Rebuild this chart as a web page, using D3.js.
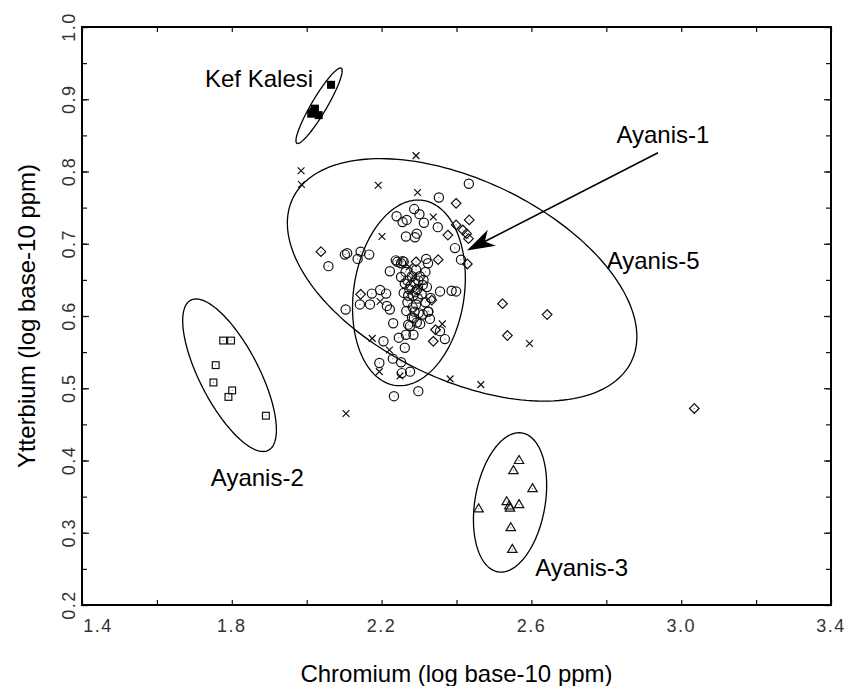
<!DOCTYPE html>
<html>
<head>
<meta charset="utf-8">
<script src="https://cdn.jsdelivr.net/npm/d3@7"></script>
<style>
body { margin: 0; background: #fff; }
text { font-family: "Liberation Sans", Arial, Helvetica, sans-serif; }
</style>
</head>
<body>
<svg id="chart"></svg>
<script>
var width = 849, height = 686;

// axis ticks
var xTicks = d3.range(14, 35, 2).map(function(d) { return d / 10; });
var xLabels = [1.4, 1.8, 2.2, 2.6, 3.0, 3.4];
var yTicks = d3.range(20, 101, 5).map(function(d) { return d / 100; });
var yLabels = [0.2, 0.3, 0.4, 0.5, 0.6, 0.7, 0.8, 0.9, 1.0];

// groups [Cr, Yb]
var kefKalesi = [[2.065,0.920],[2.022,0.887],[2.012,0.880],[2.032,0.878],[2.018,0.883]];

var ayanis2 = [[1.777,0.566],[1.798,0.566],[1.757,0.532],[1.751,0.508],[1.801,0.497],
  [1.791,0.488],[1.891,0.462]];

var ayanis3 = [[2.567,0.400],[2.552,0.386],[2.603,0.361],[2.534,0.343],[2.541,0.337],
  [2.543,0.334],[2.567,0.339],[2.459,0.333],[2.545,0.307],[2.549,0.277]];

var ayanis5 = [[2.038,0.689],[2.144,0.630],[2.292,0.675],[2.351,0.678],[2.399,0.756],
  [2.434,0.733],[2.377,0.712],[2.399,0.726],[2.417,0.719],[2.427,0.714],[2.432,0.707],
  [2.429,0.672],[2.334,0.622],[2.344,0.581],[2.338,0.565],[2.523,0.617],[2.536,0.573],
  [2.642,0.602],[3.035,0.472]];

var unassigned = [[1.985,0.801],[1.986,0.782],[2.292,0.822],[2.191,0.781],[2.296,0.771],
  [2.338,0.737],[2.201,0.710],[2.274,0.668],[2.196,0.620],[2.175,0.569],[2.221,0.553],
  [2.194,0.523],[2.249,0.517],[2.362,0.589],[2.383,0.513],[2.465,0.505],[2.595,0.562],
  [2.105,0.465],[2.285,0.655],[2.300,0.640]];

var ayanis1 = [[2.433,0.783],[2.353,0.764],[2.240,0.738],[2.287,0.748],[2.301,0.741],
  [2.267,0.733],[2.256,0.730],[2.313,0.729],[2.350,0.723],[2.265,0.710],[2.294,0.714],
  [2.289,0.709],[2.396,0.694],[2.102,0.685],[2.108,0.687],[2.144,0.689],[2.136,0.679],
  [2.167,0.685],[2.058,0.669],[2.412,0.678],[2.319,0.679],[2.238,0.677],[2.256,0.676],
  [2.222,0.662],[2.356,0.634],[2.387,0.635],[2.399,0.634],[2.174,0.631],[2.196,0.636],
  [2.212,0.631],[2.142,0.616],[2.169,0.616],[2.214,0.614],[2.222,0.609],[2.104,0.609],
  [2.325,0.606],[2.329,0.596],[2.231,0.590],[2.271,0.588],[2.294,0.591],[2.356,0.579],
  [2.369,0.568],[2.285,0.574],[2.265,0.574],[2.246,0.570],[2.205,0.565],[2.262,0.556],
  [2.230,0.541],[2.252,0.536],[2.194,0.535],[2.276,0.523],[2.254,0.521],[2.298,0.496],
  [2.233,0.489],
  [2.242,0.675],[2.259,0.675],[2.252,0.654],[2.264,0.661],[2.269,0.649],[2.281,0.655],
  [2.288,0.646],[2.298,0.649],[2.310,0.643],[2.321,0.640],[2.295,0.637],[2.274,0.637],
  [2.259,0.632],[2.284,0.628],[2.307,0.630],[2.331,0.625],[2.269,0.619],[2.292,0.616],
  [2.317,0.619],[2.266,0.607],[2.288,0.606],[2.310,0.602],[2.281,0.598],[2.303,0.589],
  [2.276,0.586],[2.324,0.606],[2.317,0.661],[2.324,0.673],[2.292,0.664],[2.252,0.673],
  [2.278,0.642],[2.290,0.633],[2.302,0.655],[2.283,0.612],[2.297,0.624],[2.271,0.628],
  [2.312,0.650],[2.262,0.645],[2.286,0.597],[2.299,0.604]];

// 95% ellipses: centre, end of major axis, end of minor axis
var ellipses = [
  {name: "Kef Kalesi", center: [2.033,0.891], major: [2.092,0.943], minor: [2.051,0.886]},
  {name: "Ayanis-2",   center: [1.794,0.518], major: [1.897,0.414], minor: [1.723,0.500]},
  {name: "Ayanis-3",   center: [2.543,0.342], major: [2.576,0.438], minor: [2.635,0.333]},
  {name: "Ayanis-5",   center: [2.415,0.650], major: [2.867,0.537], minor: [2.299,0.526]},
  {name: "Ayanis-1",   center: [2.273,0.632], major: [2.310,0.760], minor: [2.419,0.621]}
];

var labels = [
  {text: "Kef Kalesi", pos: [2.017,0.917], anchor: "end"},
  {text: "Ayanis-1",   pos: [2.827,0.840], anchor: "start"},
  {text: "Ayanis-5",   pos: [2.801,0.665], anchor: "start"},
  {text: "Ayanis-2",   pos: [1.744,0.365], anchor: "start"},
  {text: "Ayanis-3",   pos: [2.610,0.240], anchor: "start"}
];

var arrowFrom = [2.938,0.826], arrowTo = [2.428,0.6905];

var svg = d3.select("#chart").attr("width", width).attr("height", height);

var x = d3.scaleLinear().domain([1.4, 3.4]).range([82, 831]);
var y = d3.scaleLinear().domain([0.2, 1.0]).range([605, 27]);

// ticks on all four sides, pointing inward
svg.append("g").attr("transform", "translate(0," + y(0.2) + ")")
  .call(d3.axisBottom(x).tickValues(xTicks).tickSize(-5).tickFormat(""));
svg.append("g").attr("transform", "translate(0," + y(1.0) + ")")
  .call(d3.axisTop(x).tickValues(xTicks).tickSize(-5).tickFormat(""));
svg.append("g").attr("transform", "translate(" + x(1.4) + ",0)")
  .call(d3.axisLeft(y).tickValues(yTicks).tickSize(-5).tickFormat(""));
svg.append("g").attr("transform", "translate(" + x(3.4) + ",0)")
  .call(d3.axisRight(y).tickValues(yTicks).tickSize(-5).tickFormat(""));
// longer ticks at labelled values
svg.append("g").attr("transform", "translate(" + x(1.4) + ",0)")
  .call(d3.axisLeft(y).tickValues(yLabels).tickSize(-7).tickFormat(""));
svg.append("g").attr("transform", "translate(" + x(3.4) + ",0)")
  .call(d3.axisRight(y).tickValues(yLabels).tickSize(-7).tickFormat(""));
svg.selectAll(".domain").remove();
svg.selectAll(".tick line").attr("stroke", "#111").attr("stroke-width", 1.2);

svg.append("rect")
  .attr("x", x(1.4)).attr("y", y(1.0))
  .attr("width", x(3.4) - x(1.4)).attr("height", y(0.2) - y(1.0))
  .attr("fill", "none").attr("stroke", "#000").attr("stroke-width", 2);

// tick labels
svg.append("g").selectAll("text")
  .data(xLabels).enter().append("text")
  .attr("x", function(d, i) { return i == 0 ? x(d) + 16 : x(d); })
  .attr("y", 632)
  .attr("text-anchor", "middle")
  .style("font-size", "18px").style("letter-spacing", "1.5px").attr("fill", "#333")
  .text(function(d) { return d.toFixed(1); });

svg.append("g").selectAll("text")
  .data(yLabels).enter().append("text")
  .attr("transform", function(d) { return "translate(75," + y(d) + ") rotate(-90)"; })
  .attr("text-anchor", "middle")
  .style("font-size", "18px").style("letter-spacing", "1.5px").attr("fill", "#333")
  .text(function(d) { return d.toFixed(1); });

// axis titles
svg.append("text")
  .attr("x", (x(1.4) + x(3.4)) / 2).attr("y", 682)
  .attr("text-anchor", "middle").style("font-size", "24px")
  .text("Chromium (log base-10 ppm)");
svg.append("text")
  .attr("transform", "translate(35," + (y(0.2) + y(1.0)) / 2 + ") rotate(-90)")
  .attr("text-anchor", "middle").style("font-size", "24px")
  .text("Ytterbium (log base-10 ppm)");

// ellipses
var line = d3.line().curve(d3.curveLinearClosed);
function ellipsePath(e) {
  var c = [x(e.center[0]), y(e.center[1])];
  var a = [x(e.major[0]) - c[0], y(e.major[1]) - c[1]];
  var b = [x(e.minor[0]) - c[0], y(e.minor[1]) - c[1]];
  var pts = d3.range(0, 360, 2).map(function(deg) {
    var t = deg * Math.PI / 180;
    return [c[0] + a[0] * Math.cos(t) + b[0] * Math.sin(t),
            c[1] + a[1] * Math.cos(t) + b[1] * Math.sin(t)];
  });
  return line(pts);
}
svg.append("g").selectAll("path")
  .data(ellipses).enter().append("path")
  .attr("d", ellipsePath)
  .attr("fill", "none").attr("stroke", "#000").attr("stroke-width", 1.3);

// markers
var marks = svg.append("g").attr("fill", "none").attr("stroke", "#111").attr("stroke-width", 1.2);

function centreDots(data) {
  marks.append("g").selectAll("rect")
    .data(data).enter().append("rect")
    .attr("x", function(d) { return x(d[0]) - 0.5; })
    .attr("y", function(d) { return y(d[1]) - 0.5; })
    .attr("width", 1).attr("height", 1)
    .attr("fill", "#666").attr("stroke", "none");
}

marks.append("g").selectAll("circle")
  .data(ayanis1).enter().append("circle")
  .attr("cx", function(d) { return x(d[0]); })
  .attr("cy", function(d) { return y(d[1]); })
  .attr("r", 4.6);
centreDots(ayanis1);

marks.append("g").selectAll("path")
  .data(ayanis5).enter().append("path")
  .attr("d", function(d) {
    var px = x(d[0]), py = y(d[1]), s = 4.8;
    return "M" + px + "," + (py - s) + "L" + (px + s) + "," + py + "L" + px + "," + (py + s) + "L" + (px - s) + "," + py + "Z";
  });
centreDots(ayanis5);

marks.append("g").selectAll("path")
  .data(unassigned).enter().append("path")
  .attr("d", function(d) {
    var px = x(d[0]), py = y(d[1]), s = 3.4;
    return "M" + (px - s) + "," + (py - s) + "L" + (px + s) + "," + (py + s) +
           "M" + (px - s) + "," + (py + s) + "L" + (px + s) + "," + (py - s);
  });

marks.append("g").selectAll("rect")
  .data(ayanis2).enter().append("rect")
  .attr("x", function(d) { return x(d[0]) - 3.4; })
  .attr("y", function(d) { return y(d[1]) - 3.4; })
  .attr("width", 6.8).attr("height", 6.8);
centreDots(ayanis2);

marks.append("g").selectAll("path")
  .data(ayanis3).enter().append("path")
  .attr("d", function(d) {
    var px = x(d[0]), py = y(d[1]);
    return "M" + px + "," + (py - 5) + "L" + (px + 4.7) + "," + (py + 3) + "L" + (px - 4.7) + "," + (py + 3) + "Z";
  });
centreDots(ayanis3);

svg.append("g").selectAll("rect")
  .data(kefKalesi).enter().append("rect")
  .attr("x", function(d) { return x(d[0]) - 4; })
  .attr("y", function(d) { return y(d[1]) - 4; })
  .attr("width", 8).attr("height", 8)
  .attr("fill", "#000");

// arrow pointing at Ayanis-1
var p0 = [x(arrowFrom[0]), y(arrowFrom[1])], p1 = [x(arrowTo[0]), y(arrowTo[1])];
var len = Math.hypot(p0[0] - p1[0], p0[1] - p1[1]);
var u = [(p0[0] - p1[0]) / len, (p0[1] - p1[1]) / len], n = [-u[1], u[0]];
var headLen = 28, headW = 9, notch = 20;
svg.append("line")
  .attr("x1", p0[0]).attr("y1", p0[1])
  .attr("x2", p1[0] + u[0] * notch).attr("y2", p1[1] + u[1] * notch)
  .attr("stroke", "#000").attr("stroke-width", 1.6);
svg.append("path")
  .attr("d", line([
    p1,
    [p1[0] + u[0] * headLen + n[0] * headW, p1[1] + u[1] * headLen + n[1] * headW],
    [p1[0] + u[0] * notch, p1[1] + u[1] * notch],
    [p1[0] + u[0] * headLen - n[0] * headW, p1[1] + u[1] * headLen - n[1] * headW]
  ]))
  .attr("fill", "#000");

// group labels
svg.append("g").selectAll("text")
  .data(labels).enter().append("text")
  .attr("x", function(d) { return x(d.pos[0]); })
  .attr("y", function(d) { return y(d.pos[1]); })
  .attr("text-anchor", function(d) { return d.anchor; })
  .style("font-size", "24px")
  .text(function(d) { return d.text; });
</script>
</body>
</html>
